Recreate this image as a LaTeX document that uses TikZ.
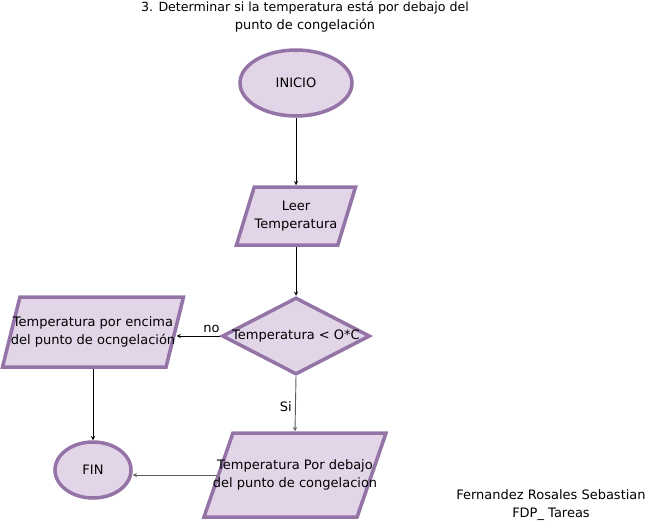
\documentclass[tikz,border=0pt]{standalone}
\usepackage{fontspec}
\setmainfont{DejaVu Sans}
\usetikzlibrary{arrows, shapes.geometric, shadows, calc}
\definecolor{flowFill}{HTML}{E3D5E8}
\definecolor{flowLine}{HTML}{9474A6}
\definecolor{flowGray}{HTML}{5A5A5A}
\tikzset{
    flowShape/.style={draw=flowLine, fill=flowFill, line width=3.5pt, inner sep=0pt, font=\fontsize{13}{18}\selectfont,
        drop shadow={shadow xshift=1.5pt, shadow yshift=-1.5pt, opacity=0.2}},
    flowStart/.style={flowShape, ellipse},
    flowIO/.style={flowShape, trapezium, trapezium stretches body=true},
    flowDecision/.style={flowShape, diamond},
    flowArrow/.style={->, >=stealth, line width=0.9pt},
    flowArrowGray/.style={->, >=stealth, line width=0.9pt, draw=flowGray},
    flowLabel/.style={font=\fontsize{13}{18}\selectfont},
}
% zero-width text box of fixed height, so the shape gets its size from the options
\newcommand{\flowText}[2]{\makebox[0pt]{\parbox[c][#1][c]{220pt}{\centering #2}}}
\newcommand{\drawFlow}[3][flowArrow]{
    \draw[#1] (#2) -- (#3);
}
\newcommand{\drawFlowLabel}[5][flowArrow]{
    \draw[#1] (#2) -- node[flowLabel, #5] {#4} (#3);
}

\begin{document}
\begin{tikzpicture}[x=1pt, y=-1pt]
        \useasboundingbox (0,0) rectangle (664,522);

        \node[flowLabel, align=center] (title) at (305,17) {\fontsize{12.6}{18}\selectfont 3. Determinar si la temperatura está por debajo del\\punto de congelación};

        \node[flowStart, minimum width=112, minimum height=66] (inicio) at (296,83) {INICIO};
        \node[flowIO, minimum width=119, trapezium left angle=73, trapezium right angle=107] (leer) at (296,216) {\flowText{58pt}{Leer\\Temperatura}};
        \node[flowDecision, minimum width=148, minimum height=77] (cond) at (296,336) {\makebox[0pt]{Temperatura < O*C}};
        \node[flowIO, minimum width=181, trapezium left angle=76, trapezium right angle=104] (encima) at (93,332) {\flowText{70pt}{Temperatura por encima\\del punto de ocngelación}};
        \node[flowIO, minimum width=182, trapezium left angle=71, trapezium right angle=109] (debajo) at (295,475) {\flowText{84pt}{Temperatura Por debajo\\del punto de congelacion}};
        \node[flowStart, minimum width=76, minimum height=56] (fin) at (93,470) {FIN};

        \node[flowLabel, align=center] (autor) at (551,505) {Fernandez Rosales Sebastian\\FDP\_ Tareas};

        \drawFlow{inicio.south}{leer.north}
        \drawFlow{leer.south}{cond.north}
        \drawFlowLabel{cond.west}{cond.west -| encima.east}{no}{above, pos=0.2}
        \drawFlowLabel[flowArrowGray]{cond.south}{debajo.north}{Si}{left, pos=0.55}
        \drawFlow{encima.south}{fin.north}
        \drawFlow[flowArrowGray]{debajo.west}{debajo.west -| fin.east}

    \end{tikzpicture}
\end{document}
